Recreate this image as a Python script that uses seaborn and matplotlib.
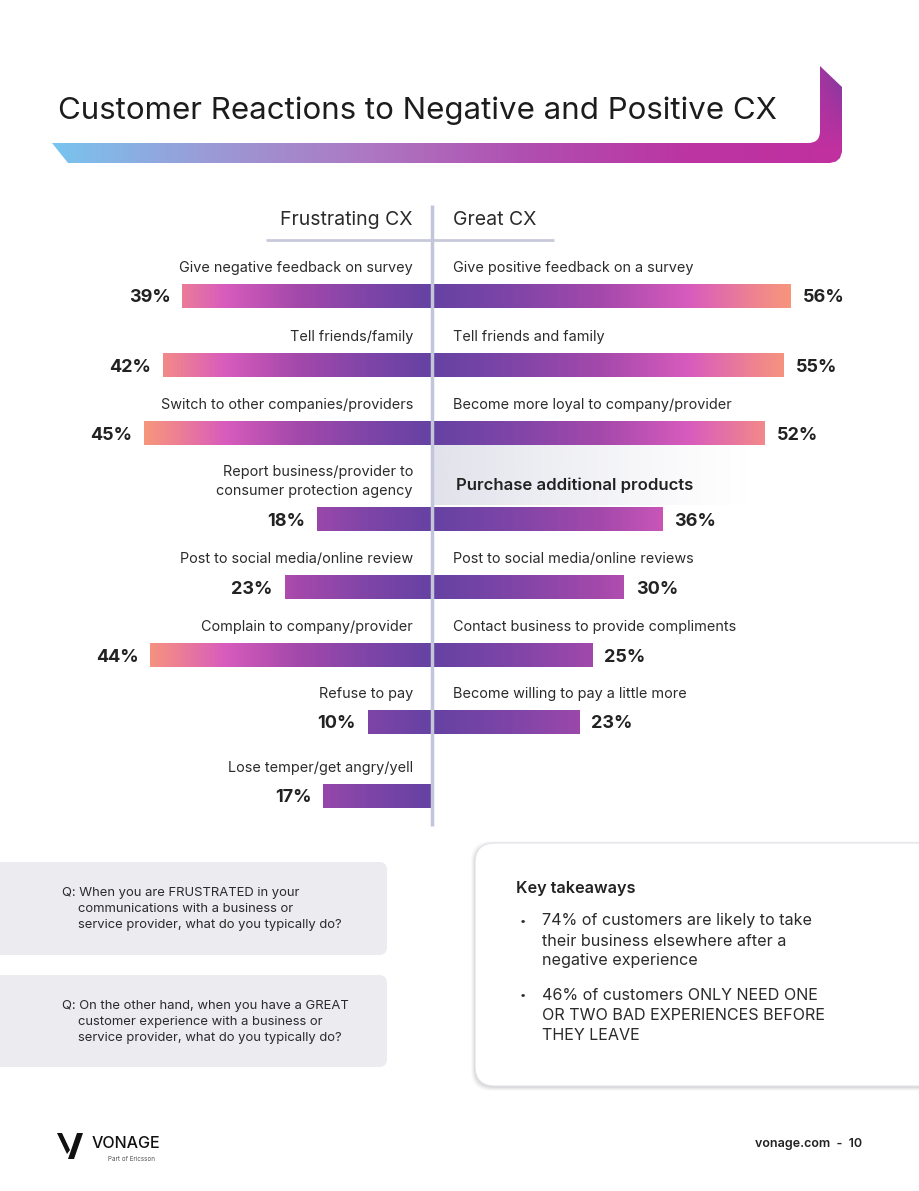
import numpy as np
import matplotlib
matplotlib.use("Agg")
import matplotlib.pyplot as plt
import seaborn as sns
import pandas as pd
from matplotlib.colors import LinearSegmentedColormap, to_rgb
from matplotlib.patches import FancyBboxPatch, Polygon

# ---------------- data ----------------
title = "Customer Reactions to Negative and Positive CX"
header_left = "Frustrating CX"
header_right = "Great CX"

frustrating_labels = [
    "Give negative feedback on survey",
    "Tell friends/family",
    "Switch to other companies/providers",
    "Report business/provider to\nconsumer protection agency",
    "Post to social media/online review",
    "Complain to company/provider",
    "Refuse to pay",
    "Lose temper/get angry/yell",
]
frustrating_values = [39, 42, 45, 18, 23, 44, 10, 17]

great_labels = [
    "Give positive feedback on a survey",
    "Tell friends and family",
    "Become more loyal to company/provider",
    "Purchase additional products",
    "Post to social media/online reviews",
    "Contact business to provide compliments",
    "Become willing to pay a little more",
]
great_values = [56, 55, 52, 36, 30, 25, 23]
highlight_label = "Purchase additional products"

question_1 = ["Q: When you are FRUSTRATED in your",
              "communications with a business or",
              "service provider, what do you typically do?"]
question_2 = ["Q: On the other hand, when you have a GREAT",
              "customer experience with a business or",
              "service provider, what do you typically do?"]
takeaways_title = "Key takeaways"
takeaways = [["74% of customers are likely to take",
              "their business elsewhere after a",
              "negative experience"],
             ["46% of customers ONLY NEED ONE",
              "OR TWO BAD EXPERIENCES BEFORE",
              "THEY LEAVE"]]
footer_brand = "VONAGE"
footer_sub = "Part of Ericsson"
footer_right = "vonage.com  -  10"

# ---------------- layout ----------------
W, H = 920, 1191
CENTER_PX = 432
PX_PER_PCT = 6.4
ROW_Y = [296, 365, 433, 519, 587, 655, 722, 796]
BAR_H = 25
TXT = "#2b2b2b"

sns.set_theme(style="white")
plt.rcParams['font.family'] = ['Inter', 'DejaVu Sans']

fig = plt.figure(figsize=(W / 100, H / 100), dpi=100)
fig.patch.set_facecolor("white")

bg = fig.add_axes([0, 0, 1, 1])
bg.set_xlim(0, W)
bg.set_ylim(H, 0)
bg.axis("off")

# ---- title banner ----
band_cmap = LinearSegmentedColormap.from_list(
    "band", ["#79c4ef", "#9b9ad6", "#ad78c2", "#b04fb0", "#bb35a3", "#c1309f"])
bx0, bx1, by0, by1 = 52, 842, 66, 163
nx, ny = 400, 60
xs = np.linspace(0, 1, nx)
ys = np.linspace(0, 1, ny)
XX, YY = np.meshgrid(xs, ys)
img = band_cmap(XX)[..., :3]
purple = np.array(to_rgb("#7d3aa0"))
wmix = np.clip((0.85 - YY) / 0.85, 0, 1) * np.clip((XX - 0.95) / 0.05, 0, 1)
img = img * (1 - wmix[..., None]) + purple * wmix[..., None]
band_poly = Polygon([(52, 143), (68, 163), (830, 163), (836, 161.5), (840, 158),
                     (842, 152), (842, 87), (820, 66), (790, 66), (790, 143)], closed=True,
                    facecolor="none", edgecolor="none")
bg.add_patch(band_poly)
im = bg.imshow(img, extent=(bx0, bx1, by1, by0), aspect="auto", zorder=1)
im.set_clip_path(band_poly)
bg.add_patch(FancyBboxPatch((-40, 20), 860, 123,
                            boxstyle="round,pad=0,rounding_size=12",
                            facecolor="white", edgecolor="none", zorder=2))
bg.text(58, 111, title, fontsize=22.5, color="#1c1c1c", va="center", ha="left", zorder=3)

# ---- headers ----
bg.text(413, 220, header_left, fontsize=14, color=TXT, ha="right", va="center")
bg.text(453, 220, header_right, fontsize=14, color=TXT, ha="left", va="center")
bg.plot([266, 554], [240, 240], color="#c8cadb", lw=2, solid_capstyle="butt")

# ---- highlight background ----
hl = np.ones((2, 200, 4))
hl[..., :3] = np.array(to_rgb("#e1e2eb"))
hl[..., 3] = np.linspace(1, 0, 200) ** 1.2
bg.imshow(hl, extent=(433, 750, 505, 445), aspect="auto", zorder=0.5)

# ---------------- chart ----------------
ax = fig.add_axes([0, 0, 1, 1])
ax.patch.set_alpha(0)

df_left = pd.DataFrame({"label": frustrating_labels,
                        "value": [-v for v in frustrating_values],
                        "pos": ROW_Y[:len(frustrating_values)]})
df_right = pd.DataFrame({"label": great_labels,
                         "value": great_values,
                         "pos": ROW_Y[:len(great_values)]})
min_gap = np.min(np.diff(ROW_Y))
sns.barplot(data=df_left, x="value", y="pos", orient="h", native_scale=True,
            width=BAR_H / min_gap, color="#6a45a5", errorbar=None, ax=ax)
n_left = len(ax.patches)
sns.barplot(data=df_right, x="value", y="pos", orient="h", native_scale=True,
            width=BAR_H / min_gap, color="#6a45a5", errorbar=None, ax=ax)
left_patches = ax.patches[:n_left]
right_patches = ax.patches[n_left:]

bar_cmap = LinearSegmentedColormap.from_list(
    "bar", [(0, "#6542a2"), (0.22, "#7e45a7"), (0.47, "#a449ab"),
            (0.72, "#d85cbd"), (0.9, "#ef8390"), (1.0, "#f6967c")])
grad = np.linspace(0, 1, 256)[None, :]


def paint(patches, side_max, sign):
    for p in patches:
        bb = p.get_bbox()
        y0, y1 = sorted([bb.y0, bb.y1])
        p.set_facecolor("none")
        p.set_edgecolor("none")
        g = ax.imshow(grad, cmap=bar_cmap, extent=(0, sign * side_max, y1, y0),
                      aspect="auto", zorder=2)
        g.set_clip_path(p)


paint(left_patches, max(frustrating_values), -1)
paint(right_patches, max(great_values), 1)

off = 12 / PX_PER_PCT
for y, v, lab in zip(ROW_Y, frustrating_values, frustrating_labels):
    ax.text(-v - off, y + 2, f"{v}%", fontsize=13, fontweight="bold", color="#222222",
            ha="right", va="center")
    lines = lab.split("\n")
    if len(lines) == 1:
        ax.text(-19 / PX_PER_PCT, y - 28, lab, fontsize=10.4, color=TXT, ha="right", va="center")
    else:
        ax.text(-19 / PX_PER_PCT, y - 47, lines[0], fontsize=10.4, color=TXT, ha="right", va="center")
        ax.text(-19 / PX_PER_PCT, y - 28, lines[1], fontsize=10.4, color=TXT, ha="right", va="center")

for y, v, lab in zip(ROW_Y, great_values, great_labels):
    ax.text(v + off, y + 2, f"{v}%", fontsize=13, fontweight="bold", color="#222222",
            ha="left", va="center")
    if lab == highlight_label:
        ax.text(24 / PX_PER_PCT, y - 34, lab, fontsize=12, fontweight="semibold",
                color="#222222", ha="left", va="center")
    else:
        ax.text(21 / PX_PER_PCT, y - 28, lab, fontsize=10.4, color=TXT, ha="left", va="center")

ax.plot([0, 0], [205, 826], color="#c3c5d9", lw=2.5, zorder=5, solid_capstyle="butt")
ax.set_xlim(-CENTER_PX / PX_PER_PCT, (W - CENTER_PX) / PX_PER_PCT)
ax.set_ylim(H, 0)
ax.axis("off")

# ---------------- bottom panels ----------------
for (y0, y1), q in zip([(862, 955), (975, 1067)], [question_1, question_2]):
    bg.add_patch(FancyBboxPatch((-20, y0), 407, y1 - y0,
                                boxstyle="round,pad=0,rounding_size=8",
                                facecolor="#ebebf0", edgecolor="none", zorder=1))
    ly = y0 + 31
    for i, line in enumerate(q):
        bg.text(62 if i == 0 else 78, ly + 16 * i, line, fontsize=9.4, color=TXT,
                ha="left", va="center", zorder=2)

# card shadow
for k, a in enumerate([0.05, 0.04, 0.03, 0.02]):
    bg.add_patch(FancyBboxPatch((475 - k - 1, 843 - k + 1), 480 + 2 * k, 243 + 2 * k + 1,
                                boxstyle="round,pad=0,rounding_size=20",
                                facecolor="black", edgecolor="none", alpha=a, zorder=1))
bg.add_patch(FancyBboxPatch((475, 843), 480, 243,
                            boxstyle="round,pad=0,rounding_size=20",
                            facecolor="white", edgecolor="#e2e2e8", lw=0.8, zorder=2))
bg.text(516, 888, takeaways_title, fontsize=11.7, fontweight="semibold", color="#222222",
        ha="left", va="center", zorder=3)
for y0, lines in zip([921, 995], takeaways):
    bg.text(520, y0, "•", fontsize=8, color=TXT, ha="left", va="center", zorder=3)
    for i, line in enumerate(lines):
        bg.text(542, y0 + 20 * i, line, fontsize=11.6, color=TXT, ha="left", va="center",
                zorder=3)

# ---------------- footer ----------------
bg.add_patch(Polygon([(57, 1133), (62, 1133), (70, 1150), (67, 1154)], closed=True,
                     facecolor="#111111", edgecolor="none"))
bg.add_patch(Polygon([(77, 1133), (83, 1133), (74, 1159), (68, 1159)], closed=True,
                     facecolor="#111111", edgecolor="none"))
bg.text(92, 1144, footer_brand, fontsize=11.6, fontweight="medium", color="#111111",
        ha="left", va="center")
bg.text(108, 1159, footer_sub, fontsize=4.5, color="#555555", ha="left", va="center")
bg.text(862, 1144, footer_right, fontsize=9, fontweight="semibold", color="#222222",
        ha="right", va="center")

fig.savefig("out.png", dpi=100, facecolor="white")
